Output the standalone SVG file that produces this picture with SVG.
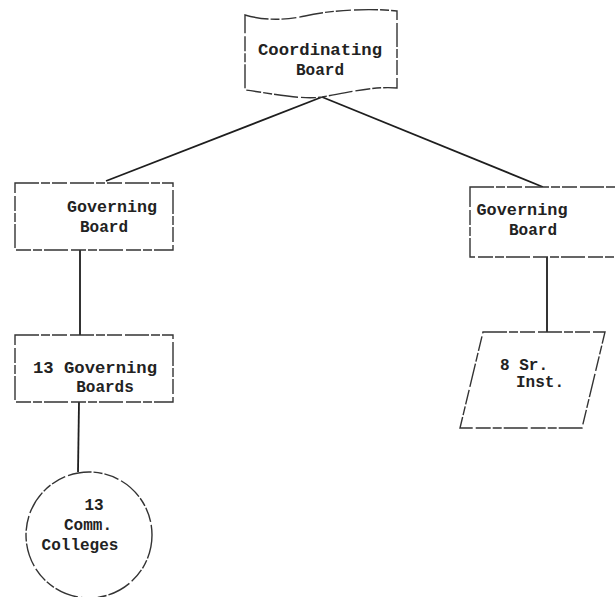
<svg xmlns="http://www.w3.org/2000/svg" width="616" height="597" viewBox="0 0 616 597">
  <style>
    .shape { fill: #ffffff; stroke: #333333; stroke-width: 1.4; stroke-dasharray: 24 2 9 2 15 3; }
    .link { fill: none; stroke: #1e1e1e; stroke-width: 1.8; }
    .label { font-family: "Liberation Mono", "DejaVu Sans Mono", monospace; font-size: 16px; font-weight: bold; fill: #222222; }
  </style>
  <rect width="616" height="597" fill="#ffffff"/>

  <!-- connectors -->
  <g id="connectors">
    <line class="link" x1="322" y1="97" x2="106" y2="181"/>
    <line class="link" x1="322" y1="97" x2="543" y2="187"/>
    <line class="link" x1="80" y1="250" x2="80" y2="335"/>
    <line class="link" x1="79" y1="402" x2="78" y2="472"/>
    <line class="link" x1="547" y1="257" x2="547" y2="332"/>
  </g>

  <!-- top coordinating board (flag-shaped document) -->
  <g id="coordinating-board">
    <path class="shape" d="M245,15 C262,20 282,21 305,16 C330,10 370,8 397,11 L397,88 C375,86 350,92 322,97 C300,100 270,93 245,90 Z"/>
    <text class="label" x="320" y="55" text-anchor="middle" textLength="124" lengthAdjust="spacingAndGlyphs">Coordinating</text>
    <text class="label" x="320" y="75" text-anchor="middle">Board</text>
  </g>

  <!-- left governing board -->
  <g id="governing-board-left">
    <rect class="shape" x="15" y="183" width="158" height="67"/>
    <text class="label" x="112" y="212" text-anchor="middle" textLength="90" lengthAdjust="spacingAndGlyphs">Governing</text>
    <text class="label" x="104" y="232" text-anchor="middle">Board</text>
  </g>

  <!-- right governing board -->
  <g id="governing-board-right">
    <rect class="shape" x="470" y="187" width="160" height="70"/>
    <text class="label" x="522" y="215" text-anchor="middle" textLength="91" lengthAdjust="spacingAndGlyphs">Governing</text>
    <text class="label" x="533" y="235" text-anchor="middle">Board</text>
  </g>

  <!-- thirteen governing boards -->
  <g id="governing-boards-13">
    <rect class="shape" x="15" y="335" width="158" height="67"/>
    <text class="label" x="95" y="373" text-anchor="middle" textLength="124" lengthAdjust="spacingAndGlyphs">13 Governing</text>
    <text class="label" x="105" y="392" text-anchor="middle">Boards</text>
  </g>

  <!-- senior institutions -->
  <g id="senior-institutions">
    <polygon class="shape" points="483,332 605,332 582,428 460,428"/>
    <text class="label" x="524" y="370" text-anchor="middle">8 Sr.</text>
    <text class="label" x="540" y="387" text-anchor="middle">Inst.</text>
  </g>

  <!-- community colleges -->
  <g id="community-colleges">
    <circle class="shape" cx="89" cy="535" r="63"/>
    <text class="label" x="94" y="510" text-anchor="middle">13</text>
    <text class="label" x="88" y="530" text-anchor="middle">Comm.</text>
    <text class="label" x="80" y="550" text-anchor="middle">Colleges</text>
  </g>
</svg>
